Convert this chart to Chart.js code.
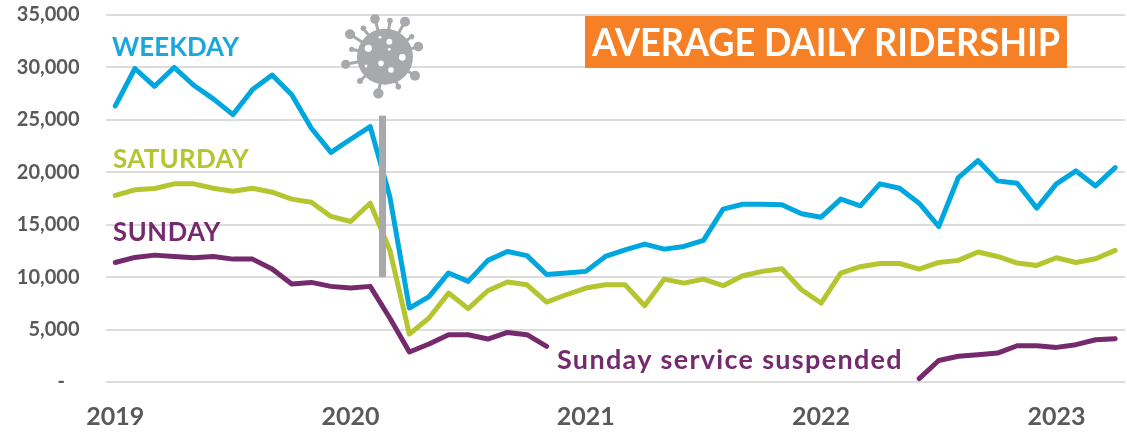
<!DOCTYPE html>
<html><head><meta charset="utf-8">
<style>html,body{margin:0;padding:0;background:#fff;width:1127px;height:433px;overflow:hidden}#w{position:relative;width:1127px;height:433px}canvas{display:block}</style>
<script src="https://cdn.jsdelivr.net/npm/chart.js@4"></script>
</head><body><div id="w"><canvas id="c" width="1127" height="433" style="width:1127px;height:433px"></canvas></div>
<script>
const categories = ["2019-01","2019-02","2019-03","2019-04","2019-05","2019-06","2019-07","2019-08","2019-09","2019-10","2019-11","2019-12",
"2020-01","2020-02","2020-03","2020-04","2020-05","2020-06","2020-07","2020-08","2020-09","2020-10","2020-11","2020-12",
"2021-01","2021-02","2021-03","2021-04","2021-05","2021-06","2021-07","2021-08","2021-09","2021-10","2021-11","2021-12",
"2022-01","2022-02","2022-03","2022-04","2022-05","2022-06","2022-07","2022-08","2022-09","2022-10","2022-11","2022-12",
"2023-01","2023-02","2023-03","2023-04"];
const weekday = [26330,29900,28200,30000,28300,27000,25500,27900,29280,27400,24200,21900,
23150,24350,17700,7050,8150,10400,9600,11600,12450,12050,10250,10400,
10550,11970,12600,13150,12670,12930,13500,16480,16950,16950,16900,16040,
15720,17440,16800,18900,18480,17050,14830,19500,21120,19180,18960,16580,
18900,20130,18700,20450];
const saturday = [17790,18330,18450,18900,18900,18480,18200,18480,18100,17440,17150,15790,
15310,17050,12600,4570,6100,8480,7000,8700,9530,9270,7620,8320,
8960,9270,9270,7270,9810,9430,9810,9180,10130,10550,10800,8800,
7530,10390,11000,11300,11300,10770,11400,11600,12400,11970,11340,11120,
11850,11400,11750,12550];
const sunday = [11400,11880,12100,11970,11850,11970,11720,11720,10770,9340,9500,9120,
8960,9120,6100,2860,3620,4510,4510,4100,4730,4510,3400,null,
null,null,null,null,null,null,null,null,null,null,null,null,
null,null,null,null,null,320,2050,2450,2600,2760,3460,3460,
3300,3560,4030,4130];
const yTicks = [0,5000,10000,15000,20000,25000,30000,35000];
const covidMarker = {category:13.63, from:10000, to:25400};

const COL = {wk:'#00A7DE', sa:'#B5C530', su:'#752A6E', grid:'#DCDCDC', tick:'#595959', mark:'#A7A9AC', title:'#F58025'};
const FONT = 'Lato, "Open Sans", sans-serif';

const virus = {
  id:'overlay',
  afterDatasetsDraw(ch){
    const ctx = ch.ctx, x = ch.scales.x, y = ch.scales.y;
    ctx.save();
    ctx.fillStyle = COL.mark;
    const bx = x.getPixelForValue(covidMarker.category);
    ctx.fillRect(bx-3.5, y.getPixelForValue(covidMarker.to), 7, y.getPixelForValue(covidMarker.from)-y.getPixelForValue(covidMarker.to));
    const cx=385, cy=56.7;
    const spikes=[[135,42,4.8],[225,50,5],[60,88,5],[265,125,4.8],[47,178,4.6],[255,212,5],[145,265,5.2],[90,228,3],[205,245,2.8],[180,47,2.8],[100,70,2.8],[245,95,2.6],[65,133,2.6]];
    ctx.strokeStyle=COL.mark; ctx.lineWidth=3;
    ctx.beginPath(); ctx.arc(cx,cy,28,0,Math.PI*2); ctx.fill();
    for(const [sx,sy,r] of spikes){
      const px=330+sx/3, py=5+sy/3;
      ctx.beginPath(); ctx.moveTo(cx,cy); ctx.lineTo(px,py); ctx.stroke();
      ctx.beginPath(); ctx.arc(px,py,r,0,Math.PI*2); ctx.fill();
    }
    ctx.fillStyle='#fff';
    for(const [sx,sy,r] of [[115,130,3.6],[178,110,2.9],[217,157,3.4],[153,175,2.8],[183,195,2.8],[108,183,1.4],[150,97,1.4],[178,133,1.4]]){
      ctx.beginPath(); ctx.arc(330+sx/3,5+sy/3,r,0,Math.PI*2); ctx.fill();
    }
    ctx.fillStyle=COL.title; ctx.fillRect(585,16,482,52);
    ctx.textBaseline='alphabetic'; ctx.textAlign='left';
    const put=(t,px,base,w,font,col,ls)=>{ctx.letterSpacing=ls||'0px';ctx.font=font;ctx.fillStyle=col;ctx.fillText(t,px,base,w);};
    put('AVERAGE DAILY RIDERSHIP',592,56,468,'bold 38px '+FONT,'#fff');
    put('WEEKDAY',112,56,127,'bold 26px '+FONT,'#1BA7DC');
    put('SATURDAY',113,168,136,'bold 26px '+FONT,'#B5C530','0.3px');
    put('SUNDAY',113,241,108,'bold 26px '+FONT,'#752A6E','0.7px');
    put('Sunday service suspended',557,369,347,'bold 27px '+FONT,'#752A6E','1.3px');
    ctx.restore();
  }
};

const ds=(label,data,color)=>({label,data,borderColor:color,backgroundColor:color,borderWidth:5,pointRadius:0,tension:0,spanGaps:false,borderCapStyle:'round',borderJoinStyle:'round'});
new Chart(document.getElementById('c'),{
  type:'line',
  data:{labels:categories,datasets:[ds('Sunday',sunday,COL.su),ds('Saturday',saturday,COL.sa),ds('Weekday',weekday,COL.wk)]},
  plugins:[virus],
  options:{
    responsive:false,animation:false,
    layout:{padding:{top:15,right:2,left:0,bottom:0}},
    plugins:{legend:{display:false},title:{display:false},tooltip:{enabled:false}},
    scales:{
      x:{offset:true,grid:{display:false},border:{display:false},
        afterFit(a){a.height=51;a.paddingLeft=0;a.paddingRight=0;},
        ticks:{autoSkip:false,maxRotation:0,minRotation:0,padding:12,color:COL.tick,font:{family:FONT,size:25,weight:'bold'},
          callback(v){const c=categories[v];return c.endsWith('-01')?c.slice(0,4):'';}}},
      y:{min:0,max:35000,grid:{color:COL.grid,lineWidth:2,drawTicks:false},border:{display:false},
        afterFit(a){a.width=105.5;a.paddingTop=0;a.paddingBottom=0;},
        afterBuildTicks(a){a.ticks=yTicks.map(v=>({value:v}));},
        ticks:{autoSkip:false,padding:26,color:COL.tick,font:{family:FONT,size:20,weight:'bold'},
          callback(v){return v===0?'-   ':v.toLocaleString('en-US');}}}
    }
  }
});
</script></body></html>
